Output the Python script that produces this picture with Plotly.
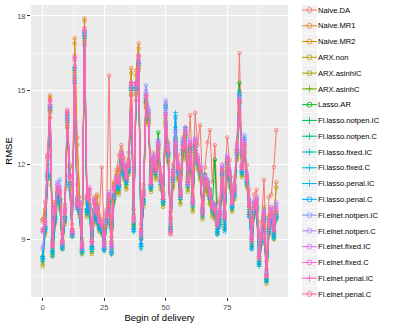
import math
import plotly.graph_objects as go

x_vals = list(range(96))

model_names = ["Naive.DA", "Naive.MR1", "Naive.MR2", "ARX.non", "ARX.asinhIC", "ARX.asinhC",
               "Lasso.AR", "Fl.lasso.notpen.IC", "Fl.lasso.notpen.C", "Fl.lasso.fixed.IC",
               "Fl.lasso.fixed.C", "Fl.lasso.penal.IC", "Fl.lasso.penal.C", "Fl.elnet.notpen.IC",
               "Fl.elnet.notpen.C", "Fl.elnet.fixed.IC", "Fl.elnet.fixed.C", "Fl.elnet.penal.IC",
               "Fl.elnet.penal.C"]
shape_letters = list("abcdefghijklmnopqrs")

naive_da = [9.8, 10.5, 11.6, 14.2, 9.0, 10.4, 10.9, 10.6, 9.2, 10.3, 13.5, 11.9,
            9.6, 15.3, 11.2, 10.5, 9.0, 16.8, 10.6, 10.2, 9.3, 10.7, 10.4, 10.0,
            11.9, 9.2, 10.1, 15.6, 9.4, 11.2, 11.8, 12.4, 12.8, 12.3, 11.9, 12.5,
            14.8, 10.2, 14.6, 15.9, 9.6, 11.2, 14.3, 13.7, 11.6, 12.5, 12.3, 12.6,
            11.9, 11.2, 13.6, 12.9, 10.1, 12.0, 13.0, 12.4, 11.6, 13.1, 13.5, 12.3,
            14.0, 11.4, 14.1, 12.8, 13.6, 11.2, 11.9, 12.9, 13.4, 11.3, 12.8, 10.4,
            10.6, 12.0, 10.8, 13.1, 12.2, 11.1, 11.5, 12.9, 16.5, 12.3, 12.5, 12.0,
            11.0, 9.6, 10.8, 11.0, 9.2, 9.7, 11.4, 8.1, 10.7, 10.8, 11.9, 13.4]
naive_mr1 = [9.7, 10.2, 12.2, 14.8, 8.9, 10.5, 11.0, 10.9, 9.0, 10.4, 14.1, 11.9,
             9.4, 17.1, 13.1, 10.7, 8.8, 17.9, 10.5, 10.8, 9.0, 10.6, 10.8, 9.9,
             9.8, 9.0, 10.2, 10.9, 9.1, 11.3, 11.6, 11.9, 12.6, 12.0, 11.8, 12.2,
             15.9, 10.0, 15.8, 16.9, 9.4, 11.0, 14.6, 13.8, 11.5, 12.3, 11.9, 12.7,
             11.6, 10.9, 13.8, 12.5, 9.9, 11.8, 13.0, 12.0, 11.0, 12.6, 13.2, 11.5,
             12.7, 10.8, 12.8, 12.3, 11.9, 10.4, 11.6, 11.3, 11.0, 10.5, 10.4, 9.8,
             10.2, 11.9, 10.1, 12.3, 11.7, 10.7, 11.2, 12.5, 14.6, 12.0, 12.6, 11.6,
             10.6, 9.2, 10.5, 10.7, 8.6, 9.3, 10.3, 7.8, 9.9, 10.3, 9.8, 11.3]
naive_mr2 = [9.8, 10.0, 12.0, 14.7, 8.8, 10.3, 10.8, 10.7, 8.9, 10.2, 14.0, 12.0,
             9.3, 16.9, 12.8, 10.5, 8.7, 17.8, 10.4, 10.6, 8.9, 10.5, 10.7, 9.8,
             9.7, 8.9, 10.0, 10.8, 8.9, 11.2, 11.5, 11.8, 12.5, 11.9, 11.7, 12.1,
             15.7, 9.9, 15.6, 16.7, 9.3, 10.9, 14.5, 13.7, 11.4, 12.1, 11.8, 12.6,
             11.5, 10.8, 13.7, 12.4, 9.8, 11.7, 12.9, 11.9, 10.9, 12.5, 13.1, 11.4,
             12.6, 10.7, 12.7, 12.2, 11.8, 10.3, 11.5, 11.2, 10.9, 10.4, 10.3, 9.7,
             10.1, 11.8, 10.0, 12.2, 11.6, 10.6, 11.1, 12.4, 14.5, 11.9, 12.5, 11.5,
             10.5, 9.1, 10.4, 10.6, 8.5, 9.2, 10.2, 7.6, 9.8, 10.2, 9.7, 11.1]
arx_non = [7.9, 9.2, 11.2, 13.9, 8.3, 9.6, 10.6, 10.2, 8.6, 9.6, 13.5, 11.0,
           9.1, 15.5, 10.3, 9.9, 8.4, 16.9, 9.9, 10.1, 8.4, 9.9, 9.6, 9.3,
           9.2, 8.6, 9.5, 10.3, 8.4, 10.5, 10.9, 10.8, 11.8, 11.4, 11.0, 11.6,
           14.8, 9.5, 14.8, 15.8, 9.1, 10.3, 14.3, 13.6, 10.9, 11.8, 11.4, 12.3,
           11.0, 10.3, 13.5, 12.1, 9.3, 11.1, 12.6, 11.4, 10.4, 12.2, 12.8, 10.9,
           12.3, 10.1, 12.4, 11.8, 11.4, 9.8, 11.0, 10.8, 10.4, 9.9, 9.8, 9.2,
           9.6, 11.3, 9.4, 11.7, 11.1, 10.1, 10.6, 12.2, 14.5, 11.5, 12.4, 11.1,
           10.0, 8.7, 9.9, 10.1, 8.0, 8.8, 9.6, 7.2, 9.2, 9.7, 9.0, 9.8]
arx_asinh_ic = [8.0, 9.3, 11.4, 14.1, 8.4, 9.7, 10.7, 10.3, 8.7, 9.7, 13.6, 11.1,
                9.2, 15.7, 10.4, 10.0, 8.5, 17.0, 10.0, 10.2, 8.5, 10.0, 9.7, 9.4,
                9.3, 8.7, 9.6, 10.4, 8.5, 10.6, 11.0, 10.9, 11.9, 11.5, 11.1, 11.7,
                14.9, 9.6, 14.9, 15.9, 9.0, 10.4, 14.4, 13.7, 11.0, 11.9, 11.5, 12.4,
                11.1, 10.4, 13.6, 12.2, 9.4, 11.2, 12.7, 11.5, 10.5, 12.3, 12.9, 11.0,
                12.4, 10.2, 12.5, 11.9, 11.5, 9.9, 11.1, 10.9, 10.5, 10.0, 9.9, 9.3,
                9.7, 11.4, 9.5, 11.8, 11.2, 10.2, 10.7, 12.3, 14.6, 11.6, 12.5, 11.2,
                10.1, 8.8, 10.0, 10.2, 8.1, 8.9, 9.7, 7.3, 9.3, 9.8, 9.1, 9.9]
arx_asinh_c = [8.1, 9.4, 11.5, 14.2, 8.5, 9.8, 10.8, 10.4, 8.7, 9.8, 13.7, 11.2,
               9.2, 15.8, 10.5, 10.1, 8.5, 17.1, 10.1, 10.3, 8.6, 10.1, 9.8, 9.5,
               9.4, 8.7, 9.7, 10.5, 8.6, 10.7, 11.1, 11.0, 12.0, 11.6, 11.2, 11.8,
               15.0, 9.6, 15.0, 16.0, 9.1, 10.5, 14.5, 13.8, 11.1, 12.0, 11.6, 12.5,
               11.2, 10.5, 13.7, 12.3, 9.5, 11.3, 12.8, 11.6, 10.6, 12.4, 13.0, 11.1,
               12.5, 10.3, 12.6, 12.0, 11.6, 10.0, 11.2, 11.0, 10.6, 10.1, 10.0, 9.4,
               9.8, 11.5, 9.6, 11.9, 11.3, 10.3, 10.8, 12.4, 14.8, 11.7, 12.6, 11.3,
               10.2, 8.9, 10.1, 10.3, 8.2, 9.0, 9.8, 7.4, 9.4, 9.9, 9.2, 10.0]
lasso_ar = [8.3, 9.5, 11.6, 14.3, 8.6, 9.9, 10.9, 10.6, 8.8, 9.9, 13.8, 11.3,
            9.3, 15.9, 10.6, 10.2, 8.6, 17.2, 10.2, 10.4, 8.7, 10.2, 9.9, 9.6,
            9.5, 8.8, 9.8, 10.6, 8.7, 10.8, 11.2, 11.2, 12.2, 11.7, 11.4, 11.9,
            15.1, 9.6, 15.1, 16.1, 9.0, 10.6, 14.6, 13.9, 11.2, 12.2, 11.8, 13.3,
            11.4, 10.6, 14.4, 12.5, 9.6, 11.5, 13.1, 11.8, 10.8, 12.6, 13.2, 11.3,
            12.7, 10.5, 12.8, 12.2, 11.8, 10.2, 11.6, 11.4, 11.0, 10.4, 12.2, 9.6,
            10.0, 11.7, 9.8, 12.1, 11.5, 10.5, 11.0, 12.6, 15.3, 11.9, 12.8, 11.5,
            10.3, 9.0, 10.3, 10.4, 8.3, 9.1, 10.0, 7.5, 9.5, 10.0, 9.3, 10.1]
fl_lasso_notpen_ic = [8.2, 9.4, 11.5, 14.2, 8.5, 9.8, 10.8, 10.5, 8.7, 9.8, 13.7, 11.2,
                      9.2, 15.8, 10.5, 10.1, 8.6, 17.1, 10.1, 10.3, 8.7, 10.1, 9.8, 9.6,
                      9.4, 8.7, 9.7, 10.5, 8.6, 10.7, 11.1, 11.1, 12.1, 11.6, 11.3, 11.8,
                      15.0, 9.5, 15.0, 16.0, 8.8, 10.5, 14.5, 13.8, 11.1, 12.1, 11.7, 12.9,
                      11.3, 10.5, 14.1, 12.4, 9.5, 11.4, 13.0, 11.7, 10.7, 12.5, 13.1, 11.2,
                      12.6, 10.4, 12.7, 12.1, 11.7, 10.1, 11.4, 11.2, 10.8, 10.3, 10.4, 9.4,
                      9.9, 11.6, 9.7, 12.0, 11.4, 10.4, 10.9, 12.5, 15.0, 11.8, 12.7, 11.4,
                      10.2, 8.9, 10.2, 10.3, 8.1, 9.0, 9.9, 7.4, 9.4, 9.9, 9.2, 10.0]
fl_lasso_notpen_c = [8.3, 9.5, 11.6, 14.3, 8.4, 9.9, 10.9, 10.6, 8.8, 9.9, 13.8, 11.3,
                     9.3, 15.9, 10.4, 10.2, 8.5, 17.2, 10.2, 10.4, 8.6, 10.2, 9.9, 9.5,
                     9.5, 8.6, 9.8, 10.6, 8.5, 10.8, 11.2, 11.2, 12.2, 11.7, 11.4, 11.9,
                     15.1, 9.4, 15.1, 16.1, 8.7, 10.6, 14.6, 13.9, 11.2, 12.2, 11.8, 12.8,
                     11.4, 10.6, 14.0, 12.5, 9.4, 11.5, 13.1, 11.8, 10.8, 12.6, 13.2, 11.3,
                     12.7, 10.5, 12.8, 12.2, 11.8, 10.0, 11.5, 11.3, 10.7, 10.2, 10.3, 9.3,
                     9.8, 11.7, 9.6, 12.1, 11.5, 10.3, 10.8, 12.6, 14.9, 11.7, 12.8, 11.3,
                     10.1, 8.8, 10.1, 10.2, 8.0, 8.9, 9.8, 7.3, 9.3, 9.8, 9.1, 9.9]
fl_lasso_fixed_ic = [8.1, 9.3, 11.4, 14.4, 8.3, 9.7, 10.7, 10.4, 8.6, 9.7, 13.9, 11.1,
                     9.1, 15.6, 10.2, 10.0, 8.4, 17.3, 10.0, 10.2, 8.5, 10.0, 9.7, 9.4,
                     9.3, 8.5, 9.6, 10.4, 8.4, 10.6, 11.0, 11.0, 12.0, 11.5, 11.2, 11.7,
                     15.0, 9.3, 15.0, 16.0, 8.6, 10.4, 14.7, 14.0, 11.0, 12.0, 11.6, 12.7,
                     11.2, 10.4, 14.2, 12.3, 9.3, 11.3, 13.5, 11.6, 10.6, 12.8, 13.3, 11.1,
                     12.5, 10.3, 12.6, 12.0, 11.6, 9.9, 11.3, 11.1, 10.6, 10.1, 10.1, 9.2,
                     9.7, 11.5, 9.5, 12.0, 11.3, 10.2, 10.7, 12.4, 14.7, 11.6, 12.9, 11.2,
                     10.0, 8.7, 10.0, 10.1, 7.9, 8.8, 9.7, 7.4, 9.2, 9.7, 9.0, 9.8]
fl_lasso_fixed_c = [8.2, 9.4, 11.5, 14.3, 8.4, 9.8, 10.8, 10.5, 8.7, 9.8, 14.0, 11.2,
                    9.2, 15.4, 10.3, 10.1, 8.5, 17.3, 10.1, 10.3, 8.6, 10.1, 9.8, 9.5,
                    9.4, 8.6, 9.7, 10.5, 8.5, 10.7, 11.1, 11.1, 12.1, 11.6, 11.3, 11.8,
                    15.1, 9.4, 15.1, 16.1, 8.7, 10.5, 14.8, 14.1, 11.1, 12.1, 11.7, 12.8,
                    11.3, 10.5, 14.3, 12.4, 9.4, 11.4, 14.0, 11.7, 10.7, 12.9, 13.4, 11.2,
                    12.6, 10.4, 12.7, 12.1, 11.7, 10.0, 11.4, 11.2, 10.7, 10.2, 10.2, 9.3,
                    9.6, 11.6, 9.4, 12.1, 11.4, 10.3, 10.8, 12.5, 14.8, 11.7, 13.0, 11.3,
                    9.9, 8.6, 10.1, 10.2, 8.0, 8.9, 9.8, 7.3, 9.3, 9.8, 9.1, 9.9]
fl_lasso_penal_ic = [8.3, 9.5, 11.6, 14.4, 8.5, 9.9, 10.9, 10.6, 8.6, 9.9, 14.0, 11.3,
                     9.1, 15.5, 10.4, 10.2, 8.5, 17.4, 10.2, 10.4, 8.6, 10.2, 9.9, 9.4,
                     9.4, 8.6, 9.8, 10.6, 8.4, 10.8, 11.2, 11.2, 12.2, 11.7, 11.4, 11.9,
                     15.2, 9.3, 15.2, 16.2, 8.7, 10.6, 14.9, 14.2, 11.2, 12.2, 11.8, 12.9,
                     11.4, 10.6, 14.4, 12.5, 9.5, 11.5, 14.1, 11.8, 10.8, 13.0, 13.5, 11.3,
                     12.7, 10.5, 12.8, 12.2, 11.8, 10.1, 11.5, 11.3, 10.8, 10.3, 10.1, 9.3,
                     9.6, 11.7, 9.4, 12.2, 11.5, 10.4, 10.9, 12.6, 14.9, 11.8, 13.1, 11.4,
                     10.0, 8.7, 10.2, 10.3, 8.1, 9.0, 9.9, 7.4, 9.4, 9.9, 9.2, 10.0]
fl_lasso_penal_c = [8.2, 9.4, 11.5, 14.3, 8.5, 9.8, 10.8, 10.5, 8.7, 9.8, 13.9, 11.2,
                    9.2, 15.3, 10.3, 10.1, 8.6, 17.3, 10.1, 10.3, 8.7, 10.1, 9.8, 9.5,
                    9.3, 8.6, 9.7, 10.5, 8.5, 10.7, 11.1, 11.1, 12.1, 11.6, 11.3, 11.8,
                    15.1, 9.4, 15.1, 16.1, 8.8, 10.5, 14.8, 14.1, 11.1, 12.1, 11.7, 12.8,
                    11.3, 10.5, 14.3, 12.4, 9.4, 11.4, 13.9, 11.7, 10.7, 12.9, 13.4, 11.2,
                    12.6, 10.4, 12.7, 12.1, 11.7, 10.0, 11.4, 11.2, 10.7, 10.2, 10.0, 9.2,
                    9.5, 11.6, 9.3, 12.1, 11.4, 10.3, 10.8, 12.5, 14.8, 11.7, 13.0, 11.3,
                    9.9, 8.6, 10.1, 10.2, 8.0, 8.9, 9.8, 7.3, 9.3, 9.8, 9.1, 9.9]
fl_elnet_notpen_ic = [8.6, 9.6, 11.7, 14.3, 8.7, 10.1, 11.3, 11.4, 8.8, 10.1, 13.8, 11.5,
                      9.3, 15.9, 10.6, 10.4, 8.8, 17.2, 10.6, 10.9, 8.9, 10.5, 10.2, 9.7,
                      9.6, 8.7, 10.0, 10.8, 8.5, 11.0, 11.4, 11.4, 12.4, 11.9, 11.5, 12.0,
                      15.2, 9.7, 15.2, 16.1, 9.0, 10.8, 15.2, 14.3, 11.4, 12.3, 11.9, 12.9,
                      11.5, 10.8, 14.6, 12.7, 9.7, 11.7, 13.4, 12.0, 10.9, 12.8, 13.4, 11.4,
                      12.9, 10.6, 13.0, 12.3, 11.9, 10.2, 11.5, 11.3, 10.9, 10.4, 10.3, 9.7,
                      10.1, 11.9, 10.0, 12.3, 11.7, 10.6, 11.1, 12.7, 14.7, 12.0, 13.2, 11.6,
                      10.5, 9.0, 10.4, 10.6, 8.4, 9.2, 10.1, 7.6, 9.7, 10.2, 9.5, 10.4]
fl_elnet_notpen_c = [8.7, 9.7, 11.8, 14.4, 8.8, 10.2, 11.2, 11.1, 8.9, 10.2, 13.9, 11.6,
                     9.4, 16.0, 10.7, 10.5, 8.9, 17.3, 10.7, 10.8, 9.0, 10.6, 10.3, 9.8,
                     9.7, 8.8, 10.1, 10.9, 8.7, 11.1, 11.5, 11.5, 12.5, 12.0, 11.6, 12.1,
                     15.3, 9.8, 15.3, 16.2, 9.2, 10.9, 15.0, 14.2, 11.5, 12.4, 12.0, 13.0,
                     11.6, 10.9, 14.5, 12.8, 9.8, 11.8, 13.3, 12.1, 11.0, 12.9, 13.5, 11.5,
                     13.0, 10.7, 13.1, 12.4, 12.0, 10.3, 11.6, 11.4, 11.0, 10.5, 10.4, 9.8,
                     10.2, 12.0, 10.1, 12.4, 11.8, 10.7, 11.2, 12.8, 14.8, 12.1, 13.0, 11.7,
                     10.6, 9.1, 10.5, 10.7, 8.5, 9.3, 10.2, 7.7, 9.8, 10.3, 9.6, 10.5]
fl_elnet_fixed_ic = [9.3, 9.8, 12.3, 14.6, 8.8, 10.3, 11.2, 11.0, 8.9, 10.2, 14.1, 11.6,
                     9.3, 16.3, 10.4, 10.5, 8.7, 17.5, 10.8, 11.0, 8.9, 10.6, 10.2, 9.8,
                     9.7, 8.8, 10.0, 10.8, 8.8, 11.1, 11.5, 11.4, 12.5, 12.0, 11.6, 12.1,
                     15.3, 9.9, 15.3, 16.4, 9.3, 10.9, 14.8, 14.1, 11.4, 12.3, 11.9, 12.9,
                     11.5, 10.8, 14.1, 12.7, 9.3, 11.7, 12.9, 12.0, 10.9, 12.8, 13.4, 11.4,
                     12.9, 10.6, 13.0, 12.3, 11.9, 10.2, 11.5, 11.3, 10.9, 10.4, 10.3, 9.7,
                     10.1, 11.9, 10.0, 12.3, 11.7, 10.6, 11.1, 12.7, 14.6, 12.0, 12.9, 11.6,
                     10.5, 9.1, 10.4, 10.6, 8.4, 9.2, 10.1, 7.6, 9.7, 10.2, 9.5, 10.3]
fl_elnet_fixed_c = [9.4, 9.7, 12.4, 14.6, 8.7, 10.2, 11.1, 10.9, 8.8, 10.1, 14.2, 11.5,
                    9.2, 16.3, 10.3, 10.4, 8.6, 17.4, 10.7, 11.1, 8.8, 10.5, 10.1, 9.7,
                    9.6, 8.7, 9.9, 10.7, 8.7, 11.0, 11.4, 11.3, 12.4, 11.9, 11.5, 12.0,
                    15.3, 9.8, 15.3, 16.4, 9.2, 10.8, 14.8, 14.0, 11.3, 12.2, 11.8, 12.8,
                    11.4, 10.7, 14.0, 12.6, 9.2, 11.6, 12.8, 11.9, 10.8, 12.7, 13.3, 11.3,
                    12.8, 10.5, 12.9, 12.2, 11.8, 10.1, 11.4, 11.2, 10.8, 10.3, 10.2, 9.6,
                    10.0, 11.8, 9.9, 12.2, 11.6, 10.5, 11.0, 12.6, 14.6, 11.9, 12.8, 11.5,
                    10.4, 9.0, 10.3, 10.5, 8.3, 9.1, 10.0, 7.5, 9.6, 10.1, 9.4, 10.2]
fl_elnet_penal_ic = [9.3, 9.6, 12.3, 14.5, 8.7, 10.1, 11.0, 10.8, 8.9, 10.0, 14.1, 11.4,
                     9.3, 16.2, 10.4, 10.3, 8.7, 17.4, 10.6, 11.0, 8.9, 10.4, 10.0, 9.7,
                     9.5, 8.8, 9.9, 10.6, 8.8, 10.9, 11.3, 11.2, 12.3, 11.8, 11.4, 11.9,
                     15.2, 9.7, 15.2, 16.3, 9.3, 10.7, 14.7, 13.9, 11.2, 12.1, 11.7, 12.7,
                     11.3, 10.6, 13.9, 12.5, 9.3, 11.5, 12.7, 11.8, 10.7, 12.6, 13.2, 11.2,
                     12.7, 10.4, 12.8, 12.1, 11.7, 10.0, 11.3, 11.1, 10.7, 10.2, 10.1, 9.5,
                     9.9, 11.7, 9.8, 12.1, 11.5, 10.4, 10.9, 12.5, 14.5, 11.8, 12.7, 11.4,
                     10.3, 8.9, 10.2, 10.4, 8.2, 9.0, 9.9, 7.5, 9.5, 10.0, 9.3, 10.1]
fl_elnet_penal_c = [9.4, 9.7, 12.4, 14.6, 8.8, 10.2, 11.1, 10.9, 8.9, 10.1, 14.2, 11.5,
                    9.4, 16.4, 10.5, 10.4, 8.8, 17.5, 10.7, 11.0, 8.9, 10.5, 10.1, 9.8,
                    9.6, 8.9, 10.0, 10.7, 8.9, 11.0, 11.4, 11.3, 12.4, 11.9, 11.5, 12.0,
                    15.3, 9.8, 15.3, 16.4, 9.4, 10.8, 14.8, 14.0, 11.3, 12.2, 11.8, 12.8,
                    11.4, 10.7, 14.0, 12.6, 9.2, 11.6, 12.8, 11.9, 10.8, 12.7, 13.3, 11.3,
                    12.8, 10.5, 12.9, 12.2, 11.8, 10.1, 11.4, 11.2, 10.8, 10.3, 10.2, 9.6,
                    10.0, 11.8, 9.9, 12.2, 11.6, 10.5, 11.0, 12.6, 14.6, 11.9, 12.8, 11.5,
                    10.4, 9.0, 10.3, 10.5, 8.3, 9.1, 10.0, 7.5, 9.6, 10.1, 9.4, 10.2]

series_values = [naive_da, naive_mr1, naive_mr2, arx_non, arx_asinh_ic, arx_asinh_c,
                 lasso_ar, fl_lasso_notpen_ic, fl_lasso_notpen_c, fl_lasso_fixed_ic,
                 fl_lasso_fixed_c, fl_lasso_penal_ic, fl_lasso_penal_c, fl_elnet_notpen_ic,
                 fl_elnet_notpen_c, fl_elnet_fixed_ic, fl_elnet_fixed_c, fl_elnet_penal_ic,
                 fl_elnet_penal_c]

x_ticks = [0, 25, 50, 75]
y_ticks = [9, 12, 15, 18]


def hcl_to_hex(h, c, l):
    # CIE polar LUV -> sRGB (like R's hcl())
    hr = math.radians(h)
    U = c * math.cos(hr)
    V = c * math.sin(hr)
    Xn, Yn, Zn = 95.047, 100.0, 108.883
    Y = Yn * (((l + 16) / 116) ** 3 if l > 8 else l / 903.3)
    un = 4 * Xn / (Xn + 15 * Yn + 3 * Zn)
    vn = 9 * Yn / (Xn + 15 * Yn + 3 * Zn)
    u = U / (13 * l) + un
    v = V / (13 * l) + vn
    X = 9.0 * Y * u / (4 * v)
    Z = -X / 3 - 5 * Y + 3 * Y / v
    X, Y, Z = X / 100, Y / 100, Z / 100
    r = 3.240479 * X - 1.537150 * Y - 0.498535 * Z
    g = -0.969256 * X + 1.875992 * Y + 0.041556 * Z
    b = 0.055648 * X - 0.204043 * Y + 1.057311 * Z

    def gam(t):
        t = 12.92 * t if t <= 0.0031308 else 1.055 * t ** (1 / 2.4) - 0.055
        return int(round(max(0, min(1, t)) * 255))
    return "#%02X%02X%02X" % (gam(r), gam(g), gam(b))


# letter-like point glyphs: round letters -> open circle, stick letters -> thin cross
round_letters = set("abcdegmnopqs")
symbols = ["circle-open" if L in round_letters else "cross-thin-open" for L in shape_letters]

n = len(model_names)
colors = [hcl_to_hex(15 + 360 * i / n, 100, 65) for i in range(n)]

# pixel layout
W, H = 395, 329
ML, MR, MT, MB = 31, 2, 5, 32
plot_w = W - ML - MR
panel_right_px = 288
key_left_px, key_right_px = 302, 317
main_dom = [0, (panel_right_px - ML) / plot_w]
key_dom = [(key_left_px - ML) / plot_w, (key_right_px - ML) / plot_w]

fig = go.Figure()
for name, vals, col, sym in zip(model_names, series_values, colors, symbols):
    fig.add_trace(go.Scatter(
        x=x_vals, y=vals, mode="lines+markers",
        line=dict(color=col, width=1),
        marker=dict(symbol=sym, size=3.5, color=col, line=dict(width=0.8, color=col)),
        name=name, showlegend=False, hoverinfo="skip", xaxis="x", yaxis="y"))

# legend drawn as a small key axis: one row per model
idx = list(range(n))
fig.add_trace(go.Scatter(
    x=[0.5] * n, y=idx, mode="markers", showlegend=False, hoverinfo="skip",
    marker=dict(symbol="square", size=15, color="#F2F2F2"), xaxis="x2", yaxis="y2"))
for i, (name, col, sym) in enumerate(zip(model_names, colors, symbols)):
    fig.add_trace(go.Scatter(
        x=[0, 0.5, 1], y=[i, i, i], mode="lines", showlegend=False, hoverinfo="skip",
        line=dict(color=col, width=1), xaxis="x2", yaxis="y2"))
    fig.add_trace(go.Scatter(
        x=[0.5], y=[i], mode="markers", showlegend=False, hoverinfo="skip",
        marker=dict(symbol=sym, size=5, color=col, line=dict(width=0.8, color=col)),
        xaxis="x2", yaxis="y2"))

tickfont = dict(size=7.5, color="#4D4D4D", family="Liberation Sans")
axis_common = dict(
    showline=False, zeroline=False, ticks="outside", ticklen=3, tickwidth=1,
    tickcolor="#333333", tickfont=tickfont,
    showgrid=True, gridcolor="white", gridwidth=1.1, automargin=False,
)

# legend rows: first row centre at py=10, last at py=294
row_px = (294 - 10) / (n - 1)
top_val = -(10 - MT) / row_px
bot_val = (n - 1) + ((H - MB) - 294) / row_px

fig.update_layout(
    width=W, height=H,
    margin=dict(l=ML, r=MR, t=MT, b=MB, autoexpand=False),
    paper_bgcolor="white", plot_bgcolor="white",
    font=dict(family="Liberation Sans"),
    showlegend=False,
    xaxis=dict(domain=main_dom, anchor="y", range=[-4.75, 99.75], tickmode="array",
               tickvals=x_ticks, ticktext=[str(t) for t in x_ticks],
               minor=dict(tickvals=[12.5, 37.5, 62.5, 87.5], showgrid=True, gridcolor="white", gridwidth=0.5, ticks=""),
               title=dict(text="Begin of delivery", font=dict(size=9.5, color="black", family="Liberation Sans"), standoff=3),
               **axis_common),
    yaxis=dict(domain=[0, 1], anchor="x", range=[6.67, 18.44], tickmode="array",
               tickvals=y_ticks, ticktext=[str(t) for t in y_ticks],
               minor=dict(tickvals=[7.5, 10.5, 13.5, 16.5], showgrid=True, gridcolor="white", gridwidth=0.5, ticks=""),
               title=dict(text="RMSE", font=dict(size=9.5, color="black", family="Liberation Sans"), standoff=2),
               **axis_common),
    xaxis2=dict(domain=key_dom, anchor="y2", range=[0, 1], showgrid=False, zeroline=False,
                showticklabels=False, ticks="", showline=False, fixedrange=True),
    yaxis2=dict(domain=[0, 1], anchor="x2", side="right", range=[bot_val, top_val],
                tickmode="array", tickvals=idx, ticktext=model_names, ticks="",
                showgrid=False, zeroline=False, showline=False, automargin=False,
                tickfont=dict(size=7.6, color="black", family="Liberation Sans"), fixedrange=True),
    shapes=[dict(type="rect", xref="x domain", yref="y domain", x0=0, x1=1, y0=0, y1=1,
                 fillcolor="#EBEBEB", line=dict(width=0), layer="below")],
)

fig.write_html("out.html", config={"displayModeBar": False, "staticPlot": True},
               post_script="document.body.style.margin='0';document.body.style.overflow='hidden';")
